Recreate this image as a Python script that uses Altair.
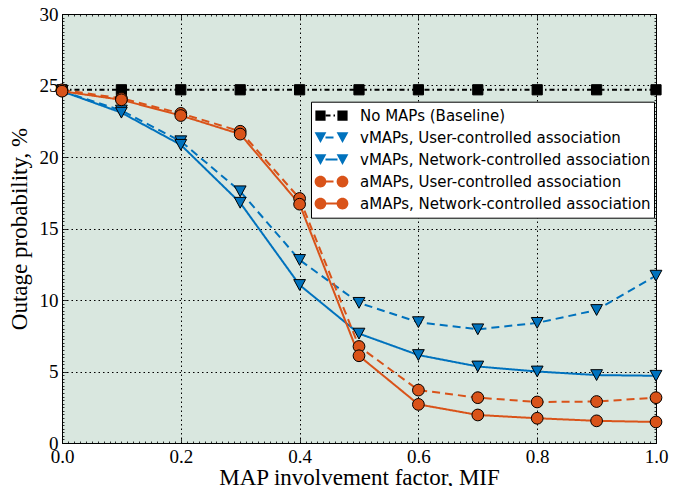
import altair as alt
import pandas as pd

# ---------------- data ----------------
mif = [0.0, 0.1, 0.2, 0.3, 0.4, 0.5, 0.6, 0.7, 0.8, 0.9, 1.0]
baseline = [24.7, 24.7, 24.7, 24.7, 24.7, 24.7, 24.7, 24.7, 24.7, 24.7, 24.7]
v_user = [24.6, 23.25, 21.1, 17.6, 12.8, 9.8, 8.45, 7.95, 8.4, 9.3, 11.7]
v_net = [24.6, 23.1, 20.85, 16.8, 11.05, 7.65, 6.15, 5.35, 5.0, 4.75, 4.7]
a_user = [24.7, 24.1, 23.05, 21.8, 17.1, 6.75, 3.7, 3.17, 2.87, 2.9, 3.17]
a_net = [24.6, 24.0, 22.9, 21.6, 16.7, 6.1, 2.7, 1.96, 1.73, 1.55, 1.47]

series_names = [
    "No MAPs (Baseline)",
    "vMAPs, User-controlled association",
    "vMAPs, Network-controlled association",
    "aMAPs, User-controlled association",
    "aMAPs, Network-controlled association",
]
line_keys = ["L0", "L1", "L2", "L3", "L4"]
x_ticks = [0.0, 0.2, 0.4, 0.6, 0.8, 1.0]
y_ticks = [0, 5, 10, 15, 20, 25, 30]

# ---------------- styles ----------------
colors = ["#000000", "#0072BD", "#0072BD", "#D95319", "#D95319"]
dashes = [[5, 3, 1.5, 3], [8, 5], [1, 0], [8, 5], [1, 0]]
BG = "#d9e7df"
SERIF = "Liberation Serif, Times New Roman, Times, serif"
SANS = "DejaVu Sans, Verdana, sans-serif"
W, H = 594, 429


def fmt(v):
    return f"{v:.3f}".rstrip("0").rstrip(".")


def square(cx, h):
    return f"M{fmt(cx-h)},{fmt(-h)}H{fmt(cx+h)}V{fmt(h)}H{fmt(cx-h)}Z"


def tri(cx, w, h):
    return f"M{fmt(cx-w)},{fmt(-h)}L{fmt(cx+w)},{fmt(-h)}L{fmt(cx)},{fmt(h)}Z"


def circ(cx, r):
    return (f"M{fmt(cx-r)},0A{fmt(r)},{fmt(r)} 0 1,0 {fmt(cx+r)},0"
            f"A{fmt(r)},{fmt(r)} 0 1,0 {fmt(cx-r)},0Z")


marker_fns = [
    lambda c: square(c, 0.85),
    lambda c: tri(c, 0.98, 0.9),
    lambda c: tri(c, 0.98, 0.9),
    lambda c: circ(c, 0.98),
    lambda c: circ(c, 0.98),
]
main_shapes = [f(0) for f in marker_fns]
legend_shapes = [f(-0.17) + " " + f(3.5) for f in marker_fns]

rows = []
for name, key, vals in zip(series_names, line_keys, [baseline, v_user, v_net, a_user, a_net]):
    for xv, yv in zip(mif, vals):
        rows.append({"mif": xv, "p": yv, "series": name, "lkey": key})
df = pd.DataFrame(rows)

xs = alt.Scale(domain=[0, 1], nice=False, zero=False)
ys = alt.Scale(domain=[0, 30], nice=False, zero=False)

x_minor = [round(i * 0.01, 2) for i in range(101)]
y_minor = [i * 0.25 for i in range(121)]
x_tsize = {"condition": {"test": "abs(datum.value*5 - round(datum.value*5)) < 0.001", "value": 5}, "value": 2}
y_tsize = {"condition": {"test": "datum.value % 5 == 0", "value": 5}, "value": 2}

lab = dict(labelFont=SERIF, labelFontSize=19, labelColor="black", labelFlush=False, labelOverlap=False)
ttl = dict(titleFont=SERIF, titleFontSize=23, titleFontWeight="normal", titleColor="black")
grid = dict(grid=True, gridColor="black", gridDash=[1.5, 3], gridWidth=1, gridOpacity=1)

main_x = alt.Axis(orient="bottom", values=x_ticks, format=".1f", domain=False, ticks=False,
                  tickSize=0, labelPadding=4, title="MAP involvement factor, MIF",
                  titlePadding=0, **lab, **ttl, **grid)
main_y = alt.Axis(orient="left", values=y_ticks, format="d", domain=False, ticks=False,
                  tickSize=0, labelPadding=4, title="Outage probability, %",
                  titlePadding=8, **lab, **ttl, **grid)


def tick_axis(orient, offset, values, tsize):
    return alt.Axis(orient=orient, offset=offset, values=values, labels=False, title=None,
                    grid=False, domain=True, domainColor="black", domainWidth=1,
                    ticks=True, tickColor="black", tickWidth=0.8, tickSize=tsize)


legend_common = dict(orient="none", legendX=249, legendY=87.7, title=None, padding=3,
                     rowPadding=0, clipHeight=21.7, labelFont=SANS,
                     labelFontSize=15, labelColor="black", labelLimit=500)

point_legend = alt.Legend(
    **legend_common,
    symbolSize=144, symbolStrokeColor="black", symbolStrokeWidth=1, symbolOpacity=1,
    labelOffset=31, fillColor="white", strokeColor="black", zindex=1,
)
line_legend = alt.Legend(
    **legend_common,
    symbolType="stroke", symbolSize=144, symbolStrokeWidth=2, symbolOffset=10,
    labelExpr="''", zindex=2,
)

base = alt.Chart(df)

lines = base.mark_line(strokeWidth=2).encode(
    x=alt.X("mif:Q", scale=xs, axis=main_x),
    y=alt.Y("p:Q", scale=ys, axis=main_y),
    color=alt.Color("lkey:N", scale=alt.Scale(domain=line_keys, range=colors), legend=line_legend),
    strokeDash=alt.StrokeDash("lkey:N", scale=alt.Scale(domain=line_keys, range=dashes), legend=line_legend),
    detail="series:N",
)

points = base.mark_point(filled=True, size=144, stroke="black", strokeWidth=1, opacity=1).encode(
    x=alt.X("mif:Q", scale=xs, axis=tick_axis("bottom", -H, x_minor, x_tsize)),
    y=alt.Y("p:Q", scale=ys, axis=tick_axis("left", -W, y_minor, y_tsize)),
    fill=alt.Fill("series:N", scale=alt.Scale(domain=series_names, range=colors), legend=None),
    shape=alt.Shape("series:N", scale=alt.Scale(domain=series_names, range=main_shapes), legend=None),
)

# invisible layer: carries the marker legend (two markers per entry) and the inner tick axes
legend_layer = base.mark_point(filled=True, opacity=0, stroke="black").encode(
    x=alt.X("mif:Q", scale=xs, axis=tick_axis("top", -H, x_minor, x_tsize)),
    y=alt.Y("p:Q", scale=ys, axis=tick_axis("right", -W, y_minor, y_tsize)),
    fill=alt.Fill("series:N", scale=alt.Scale(domain=series_names, range=colors), legend=point_legend),
    shape=alt.Shape("series:N", scale=alt.Scale(domain=series_names, range=legend_shapes), legend=point_legend),
)

chart = (
    alt.layer(lines, points, legend_layer)
    .resolve_axis(x="independent", y="independent")
    .resolve_scale(fill="independent", shape="independent")
    .resolve_legend(fill="independent", shape="independent")
    .properties(
        width=W, height=H,
        autosize=alt.AutoSizeParams(type="none"),
        padding={"left": 54, "top": 6, "right": 30, "bottom": 43},
        background="white",
    )
    .configure_view(fill=BG, stroke=None)
)

chart.save("out.html", embed_options={"renderer": "svg", "actions": False})
